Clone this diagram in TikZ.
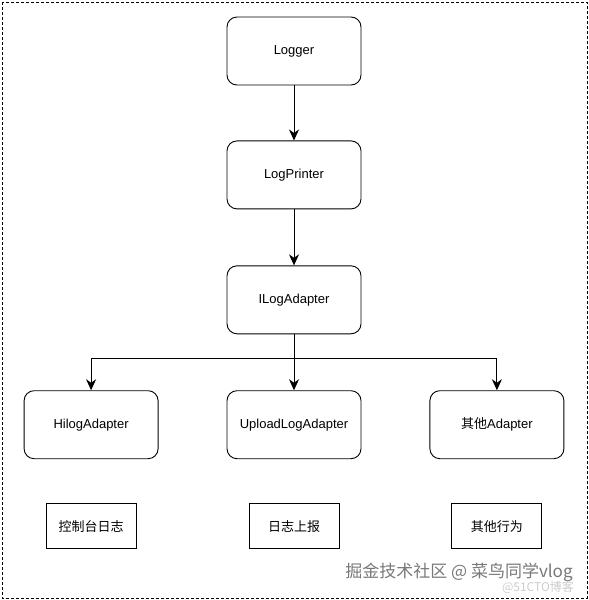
\documentclass[tikz,border=0pt]{standalone}
\usepackage{fontspec}
\setmainfont{Liberation Sans}
\newfontfamily\cjk{Noto Sans CJK SC}
\usepackage{xcolor}
\usetikzlibrary{arrows.meta, positioning}
\definecolor{markgray}{RGB}{120,120,120}
\tikzstyle{block} = [rectangle, rounded corners=10pt, minimum width=134pt, minimum height=68pt, text centered, draw=black, line width=0.9pt, font=\fontsize{13}{15}\selectfont]
\tikzstyle{note} = [rectangle, minimum width=90pt, minimum height=45pt, text centered, draw=black, line width=0.9pt, font=\fontsize{13}{15}\selectfont\cjk]
\tikzstyle{arrow} = [line width=0.9pt, -{Stealth[length=11pt, width=10pt, inset=3.5pt]}]

\begin{document}
\begin{tikzpicture}[x=1pt, y=-1pt, node distance=55pt]
    % Frame
    \useasboundingbox (0,0) rectangle (589,600);
    \draw [dash pattern=on 3pt off 2pt, line width=1pt] (2,2) rectangle (587,598);

    % Main chain
    \node (logger) [block] at (294,51) {Logger};
    \node (printer) [block, below=of logger] {LogPrinter};
    \node (ilog) [block, below=56pt of printer] {ILogAdapter};

    % Adapters
    \node (upload) [block, below=56pt of ilog] {UploadLogAdapter};
    \node (hilog) [block, left=68pt of upload] {HilogAdapter};
    \node (other) [block, right=68pt of upload] {{\cjk 其他}Adapter};

    % Behaviours
    \node (console) [note, below=44pt of hilog] {控制台日志};
    \node (report) [note, below=44pt of upload] {日志上报};
    \node (misc) [note, below=44pt of other] {其他行为};

    % Watermark
    \node (mark) [font=\fontsize{17}{19}\selectfont\cjk, text=markgray] at (459,572) {掘金技术社区 @ 菜鸟同学vlog};
    \node (mark51) [font=\fontsize{12}{14}\selectfont\cjk, text=black!20] at (538,587) {@51CTO博客};

    % Arrows
    \draw [arrow] (logger) -- (printer);
    \draw [arrow] (printer) -- (ilog);
    \draw [arrow] (ilog) -- (upload);
    \draw [arrow] (ilog.south) -- ++(0,-24pt) -| (hilog.north);
    \draw [arrow] (ilog.south) -- ++(0,-24pt) -| (other.north);
\end{tikzpicture}
\end{document}
